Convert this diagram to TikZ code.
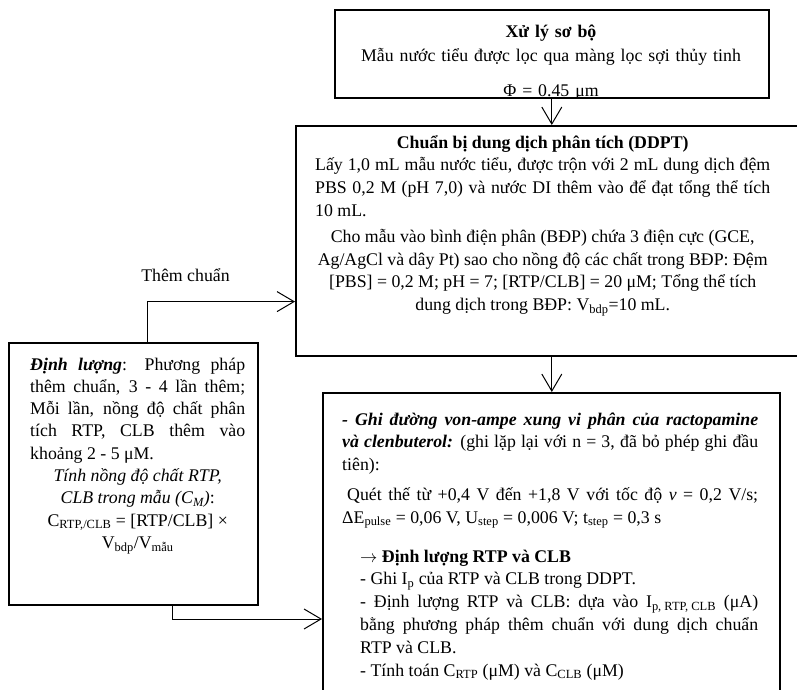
\documentclass[tikz,border=0pt]{standalone}
\usepackage{fontspec}
\setmainfont{Liberation Serif}
\usetikzlibrary{arrows.meta}

\begin{document}
\begin{tikzpicture}[x=1pt,y=-1pt,
  box/.style={draw,line width=1.6pt,anchor=north west,inner sep=0pt},
  txt/.style={inner sep=0pt,font=\fontsize{17.8}{22.8}\selectfont},
  arr/.style={line width=1pt,-{Straight Barb[length=17pt,width=20pt]}}]
\clip (0,0) rectangle (797,690);
\node[box,minimum width=434pt,minimum height=88pt] (pre) at (334,9) {};
\node[box,minimum width=520pt,minimum height=230pt] (ddpt) at (295,125) {};
\node[box,minimum width=249pt,minimum height=262pt] (dl) at (8,342) {};
\node[box,minimum width=457pt,minimum height=320pt] (ghi) at (322,392) {};
\begin{scope}
\clip (334,9) rectangle (768,97);
\node[txt,text width=420pt,align=center,anchor=base] (pretxt) at (551,38) {\textbf{Xử lý sơ bộ}\\[1.2pt]
Mẫu nước tiểu được lọc qua màng lọc sợi thủy tinh\\[11.4pt]
Φ = 0.45 μm};
\end{scope}
\node[txt,text width=455pt,align=justify,anchor=base west] (ddpttxt) at (315,148) {{\centering\textbf{Chuẩn bị dung dịch phân tích (DDPT)}\par}
Lấy 1,0 mL mẫu nước tiểu, được trộn với 2 mL dung dịch đệm\linebreak PBS 0,2 M (pH 7,0) và nước DI thêm vào để đạt tổng thể tích\linebreak 10 mL.\par
\vspace{3pt}
{\centering Cho mẫu vào bình điện phân (BĐP) chứa 3 điện cực (GCE,\\
Ag/AgCl và dây Pt) sao cho nồng độ các chất trong BĐP: Đệm\\ {}[PBS] = 0,2 M; pH = 7; [RTP/CLB] = 20 μM; Tổng thể tích\\
dung dịch trong BĐP: V\textsubscript{bdp}=10 mL.\par}};
\node[txt,font=\fontsize{17.8}{22.3}\selectfont,text width=215pt,align=justify,anchor=base west] (dltxt) at (30,370) {\textbf{\textit{Định lượng}}: Phương pháp\linebreak thêm chuẩn, 3 - 4 lần thêm;\linebreak Mỗi lần, nồng độ chất phân\linebreak tích RTP, CLB thêm vào\linebreak khoảng 2 - 5 μM.\par
{\centering \textit{Tính nồng độ chất RTP,\\ CLB trong mẫu (C\textsubscript{M})}:\\
C\textsubscript{RTP,/CLB} = [RTP/CLB] ×\\
V\textsubscript{bdp}/V\textsubscript{mẫu}\par}};
\node[txt,text width=416pt,align=justify,anchor=base west] (ghitxt) at (342,425) {\textbf{\textit{- Ghi đường von-ampe xung vi phân của ractopamine\linebreak và clenbuterol:}} (ghi lặp lại với n = 3, đã bỏ phép ghi đầu\linebreak tiên):\par
\vspace{7pt}
\hspace*{5pt}Quét thế từ +0,4 V đến +1,8 V với tốc độ \textit{v} = 0,2 V/s;\linebreak ΔE\textsubscript{pulse} = 0,06 V, U\textsubscript{step} = 0,006 V; t\textsubscript{step} = 0,3 s\par
\vspace{16pt}
{\leftskip=18pt \textbf{$\rightarrow$ Định lượng RTP và CLB}\\
- Ghi I\textsubscript{p} của RTP và CLB trong DDPT.\\
- Định lượng RTP và CLB: dựa vào I\textsubscript{p, RTP, CLB} (μA)\linebreak bằng phương pháp thêm chuẩn với dung dịch chuẩn\linebreak RTP và CLB.\\
- Tính toán C\textsubscript{RTP} (μM) và C\textsubscript{CLB} (μM)\par}};
\draw[arr] (pre.south) -- (pre.south |- ddpt.north);
\draw[arr] (pre.south |- ddpt.south) -- (pre.south |- ghi.north);
\draw[arr] ([xshift=14.5pt]dl.north) |- ([yshift=55pt]ddpt.south west) node[txt,pos=0.628,above=19pt] (themlbl) {Thêm chuẩn};
\draw[arr] ([xshift=39.5pt]dl.south) |- ([yshift=-227pt]ghi.north west);
\end{tikzpicture}
\end{document}
